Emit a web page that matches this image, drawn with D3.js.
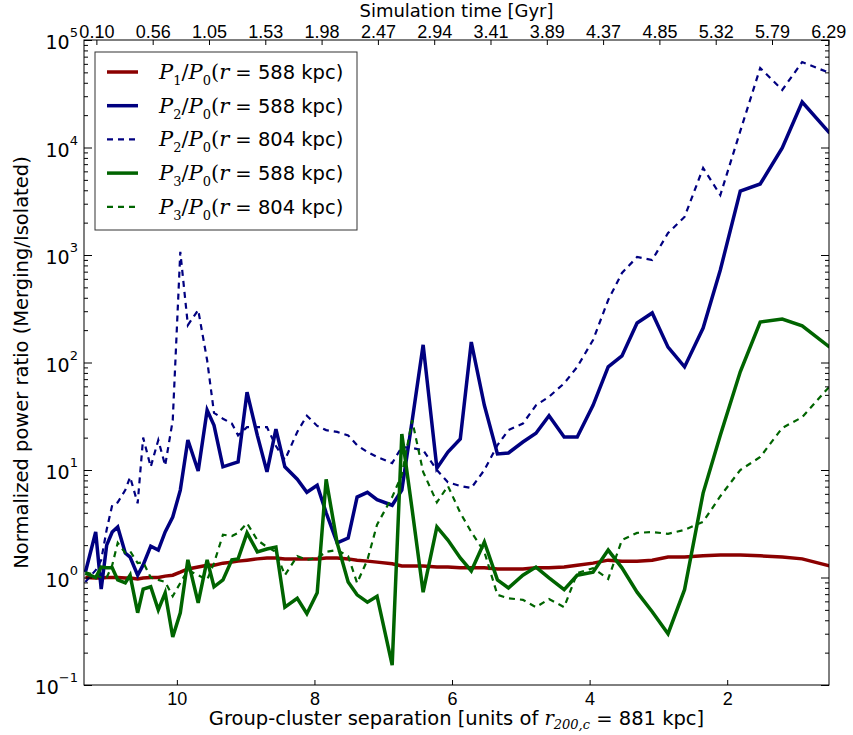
<!DOCTYPE html>
<html>
<head>
<meta charset="utf-8">
<script src="https://cdn.jsdelivr.net/npm/d3@7"></script>
<style>
  body { margin: 0; background: #fff; }
  svg { display: block; font-family: "DejaVu Sans", sans-serif; }
</style>
</head>
<body>
<svg id="chart" width="853" height="735"></svg>
<script>
"use strict";

// group-cluster separation (units of r200,c) at each snapshot
const separation = [11.33, 11.18, 11.10, 11.02, 10.94, 10.86, 10.75, 10.68, 10.57, 10.49,
    10.38, 10.27, 10.17, 10.06, 9.95, 9.84, 9.69, 9.56, 9.46, 9.33,
    9.20, 9.11, 8.98, 8.83, 8.69, 8.56, 8.43, 8.25, 8.11, 7.96,
    7.83, 7.67, 7.51, 7.38, 7.23, 7.09, 6.87, 6.73, 6.58, 6.42,
    6.22, 6.06, 5.88, 5.72, 5.53, 5.34, 5.18, 4.97, 4.78, 4.59,
    4.37, 4.18, 3.95, 3.73, 3.53, 3.31, 3.09, 2.86, 2.62, 2.35,
    2.10, 1.81, 1.52, 1.20, 0.91, 0.51];

const p1r588 = [1.0, 0.99, 0.99, 1.0, 1.0, 1.0, 0.99, 0.99, 0.97, 0.99,
    1.0, 1.0, 1.03, 1.05, 1.12, 1.2, 1.25, 1.3, 1.3, 1.36,
    1.39, 1.42, 1.45, 1.49, 1.52, 1.52, 1.49, 1.49, 1.49, 1.49,
    1.52, 1.52, 1.49, 1.45, 1.42, 1.39, 1.34, 1.28, 1.28, 1.28,
    1.25, 1.25, 1.23, 1.23, 1.23, 1.2, 1.2, 1.2, 1.23, 1.23,
    1.25, 1.3, 1.36, 1.45, 1.42, 1.42, 1.45, 1.55, 1.55, 1.59,
    1.62, 1.62, 1.59, 1.55, 1.49, 1.28];

const p2r588 = [1.12, 2.65, 0.78, 2.0, 2.65, 2.95, 1.69, 1.55, 1.05, 1.31,
    1.96, 1.8, 2.65, 3.65, 6.5, 19.0, 9.8, 36, 26, 10.7,
    11.4, 11.9, 53, 21, 9.6, 24, 10.7, 8.2, 6.2, 7.2,
    4.0, 2.1, 2.33, 5.6, 6.2, 5.3, 4.7, 6.5, 28.6, 146,
    10.4, 14.7, 19.4, 155, 40, 14.1, 14.4, 18.2, 22, 32,
    20.3, 20.3, 40, 91, 115, 233, 289, 139, 91, 209,
    725, 3940, 4580, 9890, 26500, 13600];

const p2r804 = [0.91, 1.17, 1.45, 2.8, 4.7, 5.0, 6.5, 8.6, 4.9, 20,
    10.7, 19, 11, 29, 1070, 223, 308, 105, 34, 30,
    27, 21, 25, 25, 25, 16.7, 12.4, 22.6, 32, 25.7,
    23.5, 22.6, 21, 17, 14.7, 13.2, 11.6, 16.4, 16, 15.3,
    10, 7.7, 7.1, 6.8, 10, 17, 23.5, 27, 40, 48,
    64, 91, 162, 381, 680, 958, 898, 1600, 2260, 6450,
    3610, 14200, 54900, 34300, 62400, 49300];

const p3r588 = [1.10, 1.0, 1.25, 1.23, 1.23, 0.95, 0.89, 1.05, 0.47, 0.78,
    0.82, 0.50, 0.72, 0.28, 0.47, 1.46, 0.58, 1.46, 0.82, 0.95,
    1.46, 1.49, 2.6, 1.73, 1.84, 1.92, 0.53, 0.64, 0.46, 0.72,
    8.2, 2.1, 0.91, 0.69, 0.59, 0.67, 0.153, 21.6, 4.3, 0.73,
    2.95, 2.23, 1.52, 1.15, 2.14, 0.95, 0.80, 1.05, 1.25, 0.99,
    0.77, 1.05, 1.12, 1.80, 1.23, 0.73, 0.48, 0.30, 0.77, 6.1,
    21, 82, 238, 254, 219, 139];

const p3r804 = [1.12, 1.05, 1.0, 1.0, 1.3, 2.1, 1.69, 1.76, 1.36, 1.39,
    1.0, 0.95, 0.91, 0.67, 0.89, 1.17, 1.05, 0.95, 1.36, 2.5,
    2.43, 2.6, 3.2, 2.23, 1.92, 1.73, 1.05, 1.58, 1.46, 1.52,
    1.73, 1.8, 1.58, 0.89, 1.46, 3.1, 5.6, 9.0, 29, 9.6,
    5.0, 7.1, 4.0, 2.65, 1.73, 0.69, 0.64, 0.62, 0.53, 0.63,
    0.53, 1.1, 1.22, 0.97, 2.23, 2.6, 2.65, 2.55, 2.77, 3.3,
    5.7, 10, 13.2, 24.6, 31, 60];

const timeLabels = ["0.10", "0.56", "1.05", "1.53", "1.98", "2.47", "2.94",
    "3.41", "3.89", "4.37", "4.85", "5.32", "5.79", "6.29"];
const timeSpan = [11.17, 0.53];   // separation at first / last time label

const sepTicks = [10, 8, 6, 4, 2];
const powerTicks = [0.1, 1, 10, 100, 1000, 10000, 100000];

const series = [
    { sub: "1", r: "588", values: p1r588, color: "#8b0000", dashed: false },
    { sub: "2", r: "588", values: p2r588, color: "#000080", dashed: false },
    { sub: "2", r: "804", values: p2r804, color: "#000080", dashed: true },
    { sub: "3", r: "588", values: p3r588, color: "#006400", dashed: false },
    { sub: "3", r: "804", values: p3r804, color: "#006400", dashed: true }
];

const W = 853, H = 735;
const margin = { top: 40, right: 24, bottom: 50, left: 84 };
const TICK_FONT = 18, TITLE_FONT = 19.5;

const svg = d3.select("#chart");

const x = d3.scaleLinear().domain([11.35, 0.52]).range([margin.left, W - margin.right]);
const y = d3.scaleLog().domain([0.1, 1e5]).range([H - margin.bottom, margin.top]);
const xTop = d3.scalePoint().domain(timeLabels).range(timeSpan.map(x));

svg.append("defs").append("clipPath").attr("id", "plot")
    .append("rect")
    .attr("x", margin.left).attr("y", margin.top)
    .attr("width", W - margin.left - margin.right)
    .attr("height", H - margin.top - margin.bottom);

// lines
const line = d3.line()
    .x((d, i) => x(separation[i]))
    .y(d => y(d));

const lines = svg.append("g").attr("clip-path", "url(#plot)");
series.forEach(s => {
    lines.append("path")
        .attr("d", line(s.values))
        .attr("fill", "none")
        .attr("stroke", s.color)
        .attr("stroke-width", s.dashed ? 2.2 : 3.5)
        .attr("stroke-dasharray", s.dashed ? "6,5" : null)
        .attr("stroke-linejoin", "miter");
});

// minor ticks of the log axis
const minor = [];
for (let e = -1; e < 5; e++)
    for (let m = 2; m < 10; m++) minor.push(m * Math.pow(10, e));

function styleAxis(g) {
    g.select(".domain").remove();
    g.selectAll("line").attr("stroke", "#000");
    g.selectAll("text").attr("font-size", TICK_FONT).attr("fill", "#000");
}

// bottom axis
svg.append("g")
    .attr("transform", `translate(0,${H - margin.bottom})`)
    .call(d3.axisBottom(x).tickValues(sepTicks).tickSize(-5).tickPadding(7).tickFormat(d3.format("d")))
    .call(styleAxis);

// top axis (simulation time)
svg.append("g")
    .attr("transform", `translate(0,${margin.top})`)
    .call(d3.axisTop(xTop).tickSize(-5).tickPadding(2))
    .call(styleAxis);

// left / right axes
const noLabel = () => "";
[[d3.axisLeft, margin.left], [d3.axisRight, W - margin.right]].forEach(([axis, pos]) => {
    svg.append("g")
        .attr("transform", `translate(${pos},0)`)
        .call(axis(y).tickValues(powerTicks).tickSize(-8).tickFormat(noLabel))
        .call(styleAxis);
    svg.append("g")
        .attr("transform", `translate(${pos},0)`)
        .call(axis(y).tickValues(minor).tickSize(-4).tickFormat(noLabel))
        .call(styleAxis);
});

// y tick labels as 10^n
const yLab = svg.append("g").selectAll("text")
    .data(powerTicks)
    .join("text")
    .attr("y", d => y(d) + 9)
    .attr("font-size", 19);
yLab.append("tspan").text("10");
yLab.append("tspan")
    .attr("font-size", 13)
    .attr("dy", -12)
    .text(d => String(Math.round(Math.log10(d))).replace("-", "\u2212"));
yLab.each(function () {
    const w = this.getComputedTextLength();
    d3.select(this).attr("x", margin.left - 6 - w);
});

// frame
svg.append("rect")
    .attr("x", margin.left).attr("y", margin.top)
    .attr("width", W - margin.left - margin.right)
    .attr("height", H - margin.top - margin.bottom)
    .attr("fill", "none").attr("stroke", "#000").attr("stroke-width", 1);

// axis titles
svg.append("text")
    .attr("x", (margin.left + W - margin.right) / 2)
    .attr("y", 17)
    .attr("text-anchor", "middle")
    .attr("font-size", 18)
    .text("Simulation time [Gyr]");

const xTitle = svg.append("text")
    .attr("x", (margin.left + W - margin.right) / 2)
    .attr("y", H - 10)
    .attr("text-anchor", "middle")
    .attr("font-size", TITLE_FONT);
xTitle.append("tspan").text("Group-cluster separation [units of ");
xTitle.append("tspan").attr("font-family", "DejaVu Serif").attr("font-style", "italic").text("r");
xTitle.append("tspan").attr("font-family", "DejaVu Serif").attr("font-style", "italic")
    .attr("font-size", 13).attr("dy", 4).text("200,c");
xTitle.append("tspan").attr("dy", -4).text(" = 881 kpc]");

svg.append("text")
    .attr("transform", `translate(28,${(margin.top + H - margin.bottom) / 2}) rotate(-90)`)
    .attr("text-anchor", "middle")
    .attr("font-size", TITLE_FONT)
    .text("Normalized power ratio (Merging/Isolated)");

// legend
const legend = svg.append("g").attr("transform", "translate(95,52)");
legend.append("rect")
    .attr("width", 262).attr("height", 178)
    .attr("fill", "#fff").attr("stroke", "#333").attr("stroke-width", 1);

const rows = legend.selectAll("g.row")
    .data(series)
    .join("g")
    .attr("class", "row")
    .attr("transform", (d, i) => `translate(0,${20 + i * 33.7})`);

rows.append("line")
    .attr("x1", 12).attr("x2", 43)
    .attr("stroke", d => d.color)
    .attr("stroke-width", d => d.dashed ? 2.2 : 3.5)
    .attr("stroke-dasharray", d => d.dashed ? "6,5" : null);

const lt = rows.append("text")
    .attr("x", 64).attr("y", 7)
    .attr("font-size", 21);
const serif = t => t.attr("font-family", "DejaVu Serif");
serif(lt.append("tspan")).attr("font-style", "italic").text("P");
serif(lt.append("tspan")).attr("font-size", 13).attr("dy", 6).text(d => d.sub);
serif(lt.append("tspan")).attr("dy", -6).text("/");
serif(lt.append("tspan")).attr("font-style", "italic").text("P");
serif(lt.append("tspan")).attr("font-size", 13).attr("dy", 6).text("0");
serif(lt.append("tspan")).attr("dy", -6).text("(");
serif(lt.append("tspan")).attr("font-style", "italic").text("r");
lt.append("tspan").attr("font-size", 19.5).text(d => ` = ${d.r} kpc)`);
</script>
</body>
</html>
